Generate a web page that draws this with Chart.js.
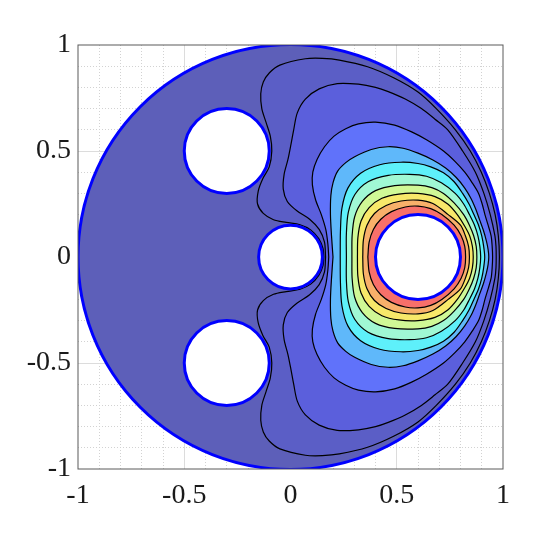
<!DOCTYPE html>
<html>
<head>
<meta charset="utf-8">
<script src="https://cdn.jsdelivr.net/npm/chart.js@4.4.1/dist/chart.umd.min.js"></script>
<style>
  html, body { margin: 0; padding: 0; background: #fff; }
</style>
</head>
<body>
<canvas id="plot" width="542" height="542"></canvas>
<script>
// axis tick labels
const tickValues = [-1, -0.5, 0, 0.5, 1];
const tickLabels = ["-1", "-0.5", "0", "0.5", "1"];

// domain: unit disk with four circular holes
const outerDisk = [{ x: 0, y: 0, r: 1 }];
const holes = [
  { x: -0.3, y: 0.5, r: 0.2 },
  { x: -0.3, y: -0.5, r: 0.2 },
  { x: 0, y: 0, r: 0.15 },
  { x: 0.6, y: 0, r: 0.2 },
];

// contour lines, outermost first. Upper half only (the field is symmetric about y = 0),
// traced from the left crossing of y = 0, over the top, to the right crossing.
const level1 = [[0.157,0],[0.153,0.04],[0.133,0.087],[0.095,0.128],[0.045,0.152],[-0.02,0.163],[-0.08,0.176],[-0.128,0.206],[-0.155,0.25],[-0.152,0.31],[-0.13,0.37],[-0.1,0.425],[-0.088,0.5],[-0.095,0.57],[-0.115,0.635],[-0.135,0.7],[-0.14,0.77],[-0.128,0.825],[-0.1,0.868],[-0.05,0.905],[0.07,0.935],[0.15,0.937],[0.23,0.929],[0.3626,0.8975],[0.4875,0.8444],[0.6,0.778],[0.686,0.7],[0.776,0.6],[0.846,0.5],[0.898,0.4],[0.936,0.3],[0.963,0.2],[0.978,0.1],[0.983,0]];
const level2 = [[0.165,0],[0.16,0.07],[0.135,0.13],[0.09,0.178],[0.03,0.218],[-0.015,0.262],[-0.034,0.32],[-0.03,0.39],[-0.012,0.46],[0.002,0.53],[0.015,0.6],[0.032,0.68],[0.07,0.745],[0.135,0.793],[0.22,0.818],[0.32,0.815],[0.4,0.8],[0.46,0.78],[0.54,0.745],[0.616,0.7],[0.68,0.65],[0.74,0.6],[0.81,0.5],[0.87,0.4],[0.91,0.3],[0.94,0.2],[0.962,0.1],[0.967,0.05],[0.968,0]];
const level3 = [[0.18,0],[0.176,0.06],[0.166,0.13],[0.145,0.2],[0.118,0.27],[0.103,0.34],[0.105,0.4],[0.125,0.46],[0.16,0.52],[0.205,0.57],[0.26,0.605],[0.32,0.628],[0.4,0.636],[0.49,0.622],[0.57,0.59],[0.64,0.553],[0.72,0.5],[0.775,0.45],[0.82,0.4],[0.855,0.35],[0.885,0.3],[0.902,0.25],[0.915,0.2],[0.93,0.15],[0.944,0.1],[0.949,0.05],[0.951,0]];
const level4 = [[0.2,0],[0.193,0.1],[0.188,0.2],[0.19,0.29],[0.2,0.35],[0.222,0.405],[0.26,0.445],[0.302,0.473],[0.38,0.507],[0.459,0.52],[0.53,0.513],[0.6,0.49],[0.67,0.458],[0.73,0.42],[0.78,0.375],[0.82,0.325],[0.85,0.275],[0.872,0.225],[0.89,0.175],[0.908,0.125],[0.922,0.075],[0.93,0.035],[0.933,0]];
const level5 = [[0.234,0],[0.235,0.12],[0.242,0.23],[0.27,0.325],[0.33,0.395],[0.42,0.435],[0.52,0.447],[0.6,0.441],[0.66,0.425],[0.72,0.397],[0.77,0.355],[0.81,0.3],[0.84,0.25],[0.863,0.2],[0.885,0.15],[0.9,0.1],[0.909,0.05],[0.914,0]];
const level6 = [[0.263,0],[0.263,0.11],[0.272,0.21],[0.303,0.295],[0.365,0.355],[0.46,0.385],[0.56,0.39],[0.64,0.381],[0.71,0.35],[0.775,0.3],[0.815,0.25],[0.842,0.2],[0.866,0.15],[0.882,0.1],[0.891,0.05],[0.895,0]];
const level7 = [[0.289,0],[0.29,0.1],[0.302,0.19],[0.338,0.262],[0.4,0.313],[0.49,0.337],[0.6,0.339],[0.665,0.327],[0.72,0.3],[0.77,0.255],[0.815,0.2],[0.842,0.15],[0.862,0.1],[0.874,0.05],[0.877,0]];
const level8 = [[0.315,0],[0.317,0.09],[0.332,0.17],[0.37,0.233],[0.43,0.277],[0.51,0.297],[0.6,0.3],[0.68,0.285],[0.74,0.25],[0.785,0.2],[0.82,0.145],[0.843,0.1],[0.856,0.05],[0.86,0]];
const level9 = [[0.34,0],[0.343,0.08],[0.36,0.15],[0.395,0.205],[0.45,0.243],[0.52,0.264],[0.6,0.268],[0.67,0.252],[0.742,0.2],[0.8,0.15],[0.823,0.1],[0.838,0.05],[0.842,0]];
const level10 = [[0.364,0],[0.37,0.07],[0.39,0.13],[0.425,0.178],[0.475,0.214],[0.54,0.236],[0.6,0.24],[0.66,0.228],[0.712,0.2],[0.77,0.15],[0.803,0.1],[0.82,0.05],[0.824,0]];

const contourLevels = [level1, level2, level3, level4, level5, level6, level7, level8, level9, level10];
const diskFill = "#5d5fb9";
const levelFills = ["#5b5ec6", "#5b5fdc", "#6072fa", "#5fb8fa", "#5ef0fa", "#a0f8d4", "#d0f896", "#f8e86a", "#f8b06a", "#f8706a"];

// mirror the upper half to get the closed contour
function closedLoop(half) {
  const upper = half.map(([x, y]) => ({ x, y }));
  const lower = half.slice(0, -1).reverse().map(([x, y]) => ({ x, y: -y }));
  return upper.concat(lower);
}

// circle radius in data units -> pixels through the x scale
function radiusPx(ctx) {
  const r = ctx.raw && ctx.raw.r;
  if (!r) return 0;
  const s = ctx.chart.scales.x;
  return Math.abs(s.getPixelForValue(r) - s.getPixelForValue(0));
}

const isMajor = (v) => Math.abs(v * 2 - Math.round(v * 2)) < 1e-6;
const isEdge = (v) => Math.abs(Math.abs(v) - 1) < 1e-6;

function tickText(v) {
  const i = tickValues.findIndex((t) => Math.abs(t - v) < 1e-6);
  return i >= 0 ? tickLabels[i] : "";
}
function gridColor(ctx) {
  if (!ctx.tick) return "rgba(0,0,0,0)";
  const v = ctx.tick.value;
  if (isEdge(v)) return "rgba(0,0,0,0)";
  return isMajor(v) ? "#dcdcdc" : "#d2d2d2";
}
function gridDash(ctx) {
  return ctx.tick && !isMajor(ctx.tick.value) ? [1, 2] : [];
}

const datasets = [];
datasets.push({
  data: outerDisk,
  pointRadius: radiusPx,
  pointBackgroundColor: diskFill,
  pointBorderWidth: 0,
  order: 30,
});
contourLevels.forEach((half, i) => {
  datasets.push({
    data: closedLoop(half),
    showLine: true,
    fill: "shape",
    backgroundColor: levelFills[i],
    borderColor: "#000000",
    borderWidth: 1.2,
    pointRadius: 0,
    tension: 0.3,
    order: 20 - i,
  });
});
datasets.push({
  data: outerDisk,
  pointRadius: radiusPx,
  pointBackgroundColor: "rgba(0,0,0,0)",
  pointBorderColor: "#0000ff",
  pointBorderWidth: 3,
  order: 2,
});
datasets.push({
  data: holes,
  pointRadius: radiusPx,
  pointBackgroundColor: "#ffffff",
  pointBorderColor: "#0000ff",
  pointBorderWidth: 3,
  order: 1,
});

const frame = {
  id: "frame",
  afterDraw(chart) {
    const { ctx, chartArea: a } = chart;
    ctx.save();
    ctx.strokeStyle = "#5a5a5a";
    ctx.lineWidth = 1;
    ctx.strokeRect(a.left, a.top, a.right - a.left, a.bottom - a.top);
    ctx.restore();
  },
};

const tickFont = { family: '"Liberation Serif", "Times New Roman", serif', size: 28 };

new Chart(document.getElementById("plot").getContext("2d"), {
  type: "scatter",
  data: { datasets },
  options: {
    responsive: false,
    devicePixelRatio: 1,
    animation: false,
    events: [],
    layout: { padding: { left: 0, top: 45, right: 39, bottom: 0 } },
    plugins: { legend: { display: false }, tooltip: { enabled: false } },
    scales: {
      x: {
        type: "linear",
        min: -1,
        max: 1,
        afterFit: (s) => { s.height = 73; },
        ticks: { stepSize: 0.1, autoSkip: false, maxRotation: 0, padding: 10, color: "#1a1a1a", font: tickFont, callback: tickText },
        grid: { color: gridColor, lineWidth: 1, drawTicks: false },
        border: { display: false, dash: gridDash },
      },
      y: {
        type: "linear",
        min: -1,
        max: 1,
        afterFit: (s) => { s.width = 78; },
        ticks: { stepSize: 0.1, autoSkip: false, padding: 7, color: "#1a1a1a", font: tickFont, callback: tickText },
        grid: { color: gridColor, lineWidth: 1, drawTicks: false },
        border: { display: false, dash: gridDash },
      },
    },
  },
  plugins: [frame],
});
</script>
</body>
</html>
